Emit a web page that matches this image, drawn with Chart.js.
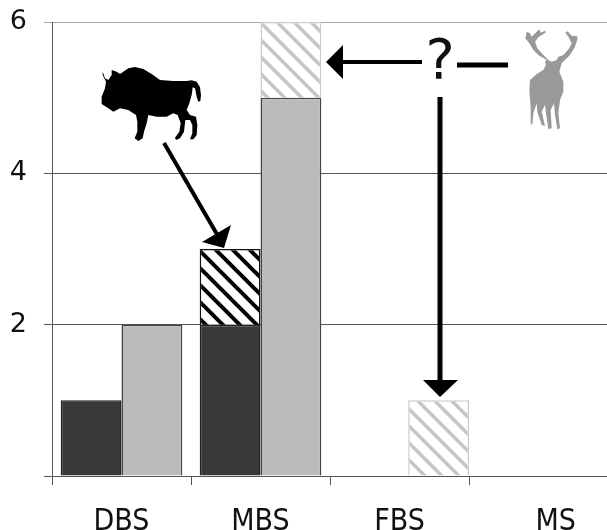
<!DOCTYPE html>
<html>
<head>
<meta charset="utf-8">
<title>DBS MBS FBS MS</title>
<script src="https://cdn.jsdelivr.net/npm/chart.js@4/dist/chart.umd.min.js"></script>
<style>
    html, body { margin: 0; padding: 0; background: #fff; overflow: hidden; }
    canvas { display: block; }
</style>
</head>
<body>
<canvas id="mycanvas" width="608" height="530"></canvas>
<script>
var categories = ['DBS', 'MBS', 'FBS', 'MS'];
var darkValues = [1, 2, null, null];
var blackHatchValues = [null, 1, null, null];
var greyValues = [2, 5, null, null];
var greyHatchValues = [null, 1, 1, null];
var yTickLabels = ['', '2', '4', '6'];

var FONT = '"DejaVu Sans", sans-serif';
var XFONT = '"DejaVu Sans Condensed", "DejaVu Sans", sans-serif';

function hatch(color, width) {
    var size = 17;
    var c = document.createElement('canvas');
    c.width = size;
    c.height = size;
    var g = c.getContext('2d');
    g.fillStyle = '#fff';
    g.fillRect(0, 0, size, size);
    g.strokeStyle = color;
    g.lineWidth = width;
    [-size, 0, size].forEach(function(d) {
        g.beginPath();
        g.moveTo(d - 2, -2);
        g.lineTo(d + size + 2, size + 2);
        g.stroke();
    });
    return g.createPattern(c, 'repeat');
}

// silhouettes, 3 units to the pixel
var bison = [308,215,315,235,325,240,335,225,335,210,350,215,360,222,385,205,405,201,430,207,455,222,480,240,520,243,560,243,575,241,590,245,600,262,603,285,601,303,595,305,590,290,585,265,578,262,575,285,568,310,560,330,570,345,588,350,592,375,590,405,580,418,570,418,577,400,577,375,570,360,556,360,552,395,540,415,528,420,525,413,538,395,542,370,533,345,520,340,500,350,470,350,445,345,440,370,432,395,428,415,415,423,404,415,412,395,412,365,408,345,385,330,360,325,340,335,325,325,305,312,305,290,315,265,318,245,308,225];
var deer = [740,180,715,165,700,150,688,130,676,115,680,95,690,100,695,110,710,95,718,88,722,98,735,92,738,97,715,112,705,125,712,145,730,165,745,180,755,185,770,180,775,170,790,165,808,145,815,130,805,110,796,98,803,94,815,107,830,108,833,115,825,140,810,165,785,190,778,215,790,245,790,275,780,300,775,340,780,385,772,388,765,345,762,310,752,330,755,385,745,388,738,340,735,315,725,335,735,378,725,375,712,335,710,310,700,340,697,375,692,370,692,320,688,270,690,240,710,222,730,210,738,195,735,185];

function silhouette(ctx, pts, dx, color) {
    ctx.save();
    ctx.translate(dx, 0);
    ctx.scale(1 / 3, 1 / 3);
    ctx.fillStyle = color;
    ctx.beginPath();
    for (var i = 0; i < pts.length; i += 2) {
        if (i === 0) ctx.moveTo(pts[i], pts[i + 1]);
        else ctx.lineTo(pts[i], pts[i + 1]);
    }
    ctx.closePath();
    ctx.fill();
    ctx.restore();
}

function line(ctx, x1, y1, x2, y2, w) {
    ctx.lineWidth = w;
    ctx.beginPath();
    ctx.moveTo(x1, y1);
    ctx.lineTo(x2, y2);
    ctx.stroke();
}

function tri(ctx, a, b, c, d, e, f) {
    ctx.beginPath();
    ctx.moveTo(a, b);
    ctx.lineTo(c, d);
    ctx.lineTo(e, f);
    ctx.closePath();
    ctx.fill();
}

var annotations = {
    id: 'annotations',
    afterDatasetsUpdate: function(chart) {
        // the FBS bar sits off its slot in the original
        chart.getDatasetMeta(3).data[2].x += 8.7;
    },
    afterDraw: function(chart) {
        var ctx = chart.ctx;
        ctx.save();
        silhouette(ctx, bison, 0, '#000');
        silhouette(ctx, deer, 300, '#999');
        ctx.strokeStyle = '#000';
        ctx.fillStyle = '#000';
        line(ctx, 164, 143, 218, 236, 4);
        tri(ctx, 202, 242, 231, 225, 224, 248);
        line(ctx, 340, 62, 422, 62, 4);
        tri(ctx, 326, 62, 343, 45, 343, 79);
        line(ctx, 457, 65, 508, 65, 5);
        line(ctx, 440, 97, 440, 382, 5);
        tri(ctx, 423, 380, 458, 380, 440, 397);
        ctx.font = '55px ' + FONT;
        ctx.textAlign = 'center';
        ctx.textBaseline = 'alphabetic';
        ctx.fillStyle = '#111';
        ctx.fillText('?', 440, 78);
        ctx.restore();
    }
};

var commonBar = { categoryPercentage: 0.875, barPercentage: 1, borderWidth: 1.5 };

var chartdata = {
    labels: categories,
    datasets: [
        Object.assign({ label: 'dark', data: darkValues, stack: 'a', backgroundColor: '#383838', borderColor: '#222' }, commonBar),
        Object.assign({ label: 'black hatch', data: blackHatchValues, stack: 'a', backgroundColor: hatch('#000', 4), borderColor: '#111' }, commonBar),
        Object.assign({ label: 'grey', data: greyValues, stack: 'b', backgroundColor: '#bbb', borderColor: '#444' }, commonBar),
        Object.assign({ label: 'grey hatch', data: greyHatchValues, stack: 'b', backgroundColor: hatch('#c6c6c6', 3.5), borderColor: '#ccc' }, commonBar)
    ]
};

new Chart(document.getElementById('mycanvas'), {
    type: 'bar',
    data: chartdata,
    plugins: [annotations],
    options: {
        responsive: false,
        animation: false,
        layout: { padding: { top: 22, right: 0, bottom: 0, left: 0 } },
        plugins: { legend: { display: false }, title: { display: false }, tooltip: { enabled: false } },
        scales: {
            x: {
                stacked: true,
                grid: { offset: true, drawOnChartArea: false, color: '#555', tickLength: 9 },
                border: { color: '#555' },
                afterFit: function(scale) { scale.height = 54; },
                ticks: {
                    color: '#111',
                    padding: 19,
                    maxRotation: 0,
                    autoSkip: false,
                    font: { family: XFONT, size: 30 },
                    callback: function(v, i) {
                        // MS sits right of its slot in the original
                        return i === 3 ? '    ' + categories[i] : categories[i];
                    }
                }
            },
            y: {
                stacked: true,
                min: 0,
                max: 6,
                grid: {
                    tickLength: 8,
                    color: function(c) { return c.tick.value === 6 ? '#aaa' : '#555'; }
                },
                border: { color: '#555' },
                afterFit: function(scale) {
                    scale.width = 52;
                    // the tick padding would otherwise push the plot top down
                    scale.paddingTop = 0;
                    scale.paddingBottom = 0;
                },
                ticks: {
                    stepSize: 2,
                    color: '#111',
                    padding: 17,
                    font: { family: FONT, size: 27 },
                    callback: function(v) { return yTickLabels[v / 2]; }
                }
            }
        }
    }
});
</script>
</body>
</html>
